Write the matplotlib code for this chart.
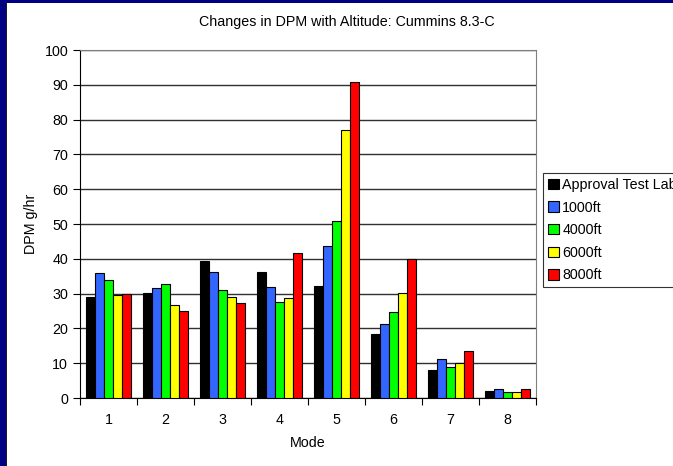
import matplotlib
matplotlib.use("Agg")
import matplotlib.pyplot as plt
import numpy as np
from matplotlib.patches import Rectangle

plt.rcParams['font.family'] = ['Liberation Sans', 'DejaVu Sans']

modes = ["1", "2", "3", "4", "5", "6", "7", "8"]
series_names = ["Approval Test Lab", "1000ft", "4000ft", "6000ft", "8000ft"]
approval = [29.1, 30.2, 39.4, 36.2, 32.3, 18.3, 8.0, 2.0]
ft1000 = [35.8, 31.6, 36.1, 32.0, 43.6, 21.4, 11.1, 2.5]
ft4000 = [33.9, 32.7, 31.0, 27.6, 50.9, 24.6, 8.8, 1.6]
ft6000 = [29.7, 26.8, 29.0, 28.8, 76.9, 30.2, 10.2, 1.6]
ft8000 = [29.9, 25.0, 27.2, 41.7, 90.7, 40.0, 13.6, 2.5]
series = [approval, ft1000, ft4000, ft6000, ft8000]
colors = ["#000000", "#3366FF", "#00FF00", "#FFFF00", "#FF0000"]
y_ticks = [0, 10, 20, 30, 40, 50, 60, 70, 80, 90, 100]

FS = 10.3
W, H = 673, 466
fig = plt.figure(figsize=(W / 100, H / 100), dpi=100)
fig.patch.set_facecolor("white")

# navy slide frame on the left and top edges
fig.patches.append(Rectangle((0, 0), 7 / W, 1, transform=fig.transFigure,
                             facecolor="#000080", edgecolor="none", zorder=0))
fig.patches.append(Rectangle((0, 1 - 3 / H), 1, 3 / H, transform=fig.transFigure,
                             facecolor="#000080", edgecolor="none", zorder=0))
fig.patches.append(Rectangle((6 / W, 0), 1.5 / W, 1 - 3 / H, transform=fig.transFigure,
                             facecolor="#1a1a2a", edgecolor="none", zorder=0))

ax = fig.add_axes([80 / W, (H - 398) / H, (536 - 80) / W, (398 - 50) / H])

x = np.arange(len(modes))
bw = 0.158
offsets = (np.arange(len(series)) - 2) * bw
handles = []
for vals, name, c, off in zip(series, series_names, colors, offsets):
    b = ax.bar(x + off, vals, width=bw, color=c, edgecolor="black",
               linewidth=0.8, label=name, zorder=3)
    handles.append(b)

ax.set_xlim(-0.5, len(modes) - 0.5)
ax.set_ylim(0, 100)
ax.set_yticks(y_ticks)
ax.yaxis.grid(True, color="#303030", linewidth=1.0, zorder=1)
ax.set_axisbelow(True)

ax.set_xticks(x)
ax.set_xticklabels(modes)
ax.set_xticks(np.arange(-0.5, len(modes)), minor=True)
ax.tick_params(axis="x", which="major", length=0, pad=11, labelsize=FS)
ax.tick_params(axis="x", which="minor", length=5, width=0.8, direction="out")
ax.tick_params(axis="y", length=5, width=0.8, direction="out", labelsize=FS)

for side in ("top", "right"):
    ax.spines[side].set_color("#808080")
for side in ("left", "bottom"):
    ax.spines[side].set_color("black")

ax.set_xlabel("Mode", fontsize=FS, labelpad=6)
ax.set_ylabel("DPM g/hr", fontsize=FS, labelpad=5)
fig.text(347 / W, 1 - 22 / H, "Changes in DPM with Altitude: Cummins 8.3-C",
         fontsize=FS, ha="center", va="center")

leg = fig.legend(handles=handles, labels=series_names, loc="upper left",
                 bbox_to_anchor=(543 / W, 1 - 173 / H), frameon=True,
                 fancybox=False, edgecolor="black", fontsize=FS,
                 handlelength=0.75, handleheight=0.75, handletextpad=0.25,
                 borderpad=0.35, labelspacing=0.6, borderaxespad=0)
leg.get_frame().set_linewidth(0.8)

fig.savefig("out.png", dpi=100)
